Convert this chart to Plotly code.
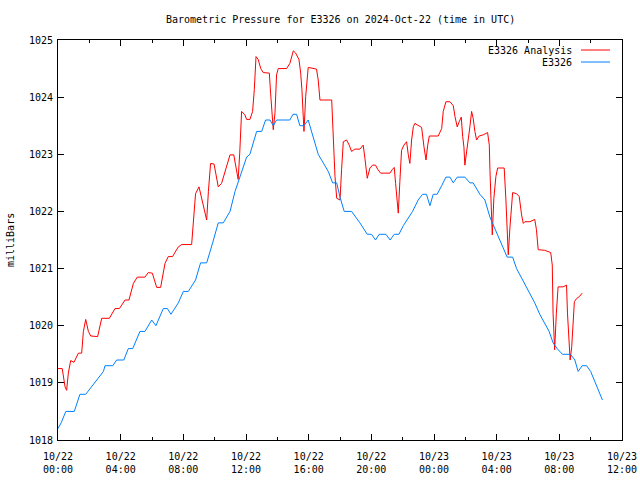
import pandas as pd
import plotly.graph_objects as go

START = "2024-10-22 00:00"

# E3326 Analysis (hours since 2024-10-22 00:00 UTC, mbar)
analysis_hours = [0.0, 0.27, 0.45, 0.55, 0.66, 0.81, 1.02, 1.3, 1.51, 1.62, 1.77, 1.94, 2.09, 2.53, 2.79, 3.28,
                  3.64, 3.92, 4.28, 4.53, 4.81, 5.06, 5.55, 5.76, 6.02, 6.3, 6.55, 6.83, 7.04, 7.31, 7.68, 7.89,
                  8.53, 8.64, 8.78, 9.0, 9.17, 9.32, 9.49, 9.6, 9.74, 9.96, 10.23, 10.44, 10.76, 10.98, 11.22,
                  11.4, 11.5, 11.6, 11.72, 11.93, 12.04, 12.25, 12.42, 12.53, 12.64, 12.78, 12.94, 13.1, 13.49,
                  13.57, 13.68, 13.74, 13.85, 13.95, 14.06, 14.59, 14.8, 15.02, 15.17, 15.38, 15.49, 15.57, 15.7,
                  15.81, 15.97, 16.5, 16.61, 16.72, 17.47, 17.57, 17.68, 17.79, 18.0, 18.1, 18.21, 18.42, 18.59,
                  18.74, 18.95, 19.27, 19.48, 19.59, 19.74, 19.91, 20.08, 20.27, 20.4, 20.59, 21.19, 21.33, 21.46,
                  21.55, 21.65, 21.72, 21.82, 21.93, 22.08, 22.25, 22.36, 22.46, 22.57, 22.68, 22.78, 22.99, 23.21,
                  23.36, 23.49, 23.6, 23.7, 24.27, 24.49, 24.59, 24.76, 25.02, 25.23, 25.34, 25.48, 25.61, 25.74,
                  25.83, 25.91, 25.97, 26.08, 26.19, 26.29, 26.4, 26.5, 26.61, 26.72, 26.88, 27.14, 27.42, 27.53,
                  27.57, 27.64, 27.72, 27.82, 27.95, 28.06, 28.48, 28.59, 28.67, 28.74, 28.85, 28.95, 29.02, 29.27,
                  29.44, 29.59, 29.7, 29.8, 30.12, 30.43, 30.54, 30.65, 31.06, 31.45, 31.55, 31.6, 31.66, 31.7,
                  31.81, 31.92, 32.24, 32.46, 32.52, 32.62, 32.69, 32.79, 32.86, 32.96, 33.12, 33.28, 33.46]
analysis_mbar = [1019.25, 1019.25, 1018.93, 1018.87, 1019.17, 1019.39, 1019.36, 1019.52, 1019.52, 1019.9, 1020.11,
                 1019.9, 1019.82, 1019.81, 1020.13, 1020.13, 1020.3, 1020.3, 1020.45, 1020.45, 1020.74, 1020.85,
                 1020.85, 1020.93, 1020.92, 1020.67, 1020.67, 1021.09, 1021.21, 1021.21, 1021.38, 1021.42, 1021.42,
                 1021.79, 1022.31, 1022.43, 1022.23, 1022.0, 1021.85, 1022.35, 1022.84, 1022.83, 1022.43, 1022.49,
                 1022.78, 1022.99, 1022.99, 1022.73, 1022.56, 1023.02, 1023.75, 1023.69, 1023.61, 1023.61, 1023.75,
                 1024.13, 1024.71, 1024.66, 1024.5, 1024.43, 1024.42, 1024.07, 1023.63, 1023.43, 1023.72, 1024.39,
                 1024.5, 1024.5, 1024.59, 1024.81, 1024.77, 1024.66, 1024.42, 1024.13, 1023.4, 1024.01, 1024.52,
                 1024.49, 1024.3, 1023.95, 1023.95, 1023.31, 1022.61, 1022.23, 1022.2, 1022.73, 1023.22, 1023.25,
                 1023.16, 1023.05, 1023.09, 1023.09, 1023.16, 1022.93, 1022.58, 1022.76, 1022.81, 1022.81, 1022.74,
                 1022.67, 1022.67, 1022.73, 1022.77, 1022.49, 1022.08, 1021.97, 1022.52, 1023.07, 1023.16, 1023.22,
                 1022.99, 1022.84, 1023.25, 1023.48, 1023.54, 1023.51, 1023.47, 1023.13, 1022.9, 1023.16, 1023.32,
                 1023.32, 1023.45, 1023.75, 1023.92, 1023.92, 1023.85, 1023.66, 1023.48, 1023.57, 1023.65, 1023.31,
                 1023.13, 1022.81, 1023.02, 1023.25, 1023.48, 1023.75, 1023.63, 1023.4, 1023.25, 1023.32, 1023.34,
                 1023.38, 1023.16, 1022.73, 1022.26, 1021.59, 1022.23, 1022.61, 1022.76, 1022.76, 1022.2, 1021.79,
                 1021.24, 1021.73, 1022.2, 1022.33, 1022.31, 1022.26, 1021.94, 1021.79, 1021.82, 1021.82, 1021.86,
                 1021.68, 1021.33, 1021.32, 1021.28, 1021.06, 1020.22, 1019.81, 1019.58, 1020.22, 1020.68, 1020.68,
                 1020.71, 1020.22, 1019.81, 1019.4, 1019.63, 1020.04, 1020.42, 1020.48, 1020.51, 1020.57]

# E3326 observations
station_hours = [0.0, 0.2, 0.5, 1.04, 1.4, 1.77, 2.9, 3.0, 3.5, 3.74, 4.2, 4.49, 4.77, 5.23, 5.55, 5.98, 6.25,
                 6.72, 6.98, 7.21, 7.68, 8.0, 8.32, 8.78, 9.1, 9.49, 9.87, 10.23, 10.55, 10.98, 11.3, 11.62, 12.04,
                 12.25, 12.68, 13.0, 13.25, 13.53, 13.74, 13.95, 14.8, 15.0, 15.23, 15.44, 15.7, 15.97, 16.29,
                 16.61, 16.93, 17.25, 17.53, 17.79, 18.0, 18.27, 18.74, 19.27, 19.74, 20.01, 20.27, 20.5, 20.93,
                 21.2, 21.46, 21.76, 22.04, 22.63, 22.99, 23.27, 23.52, 23.74, 23.95, 24.2, 24.49, 24.76, 25.02,
                 25.23, 25.48, 25.97, 26.29, 26.5, 26.93, 27.25, 27.57, 27.89, 28.21, 28.53, 28.67, 29.02, 29.27,
                 29.66, 30.07, 30.43, 30.75, 31.06, 31.35, 31.6, 31.86, 32.2, 32.71, 32.99, 33.2, 33.46, 33.74,
                 34.0, 34.21, 34.49, 34.75]
station_mbar = [1018.2, 1018.3, 1018.5, 1018.5, 1018.8, 1018.8, 1019.2, 1019.3, 1019.3, 1019.4, 1019.4, 1019.6,
                1019.6, 1019.9, 1019.9, 1020.1, 1020.0, 1020.3, 1020.3, 1020.2, 1020.4, 1020.6, 1020.6, 1020.8,
                1021.1, 1021.1, 1021.45, 1021.8, 1021.8, 1022.0, 1022.35, 1022.6, 1022.95, 1023.0, 1023.4, 1023.4,
                1023.6, 1023.6, 1023.5, 1023.6, 1023.6, 1023.7, 1023.7, 1023.5, 1023.5, 1023.6, 1023.3, 1023.0,
                1022.85, 1022.7, 1022.5, 1022.5, 1022.25, 1022.0, 1022.0, 1021.8, 1021.6, 1021.6, 1021.5, 1021.6,
                1021.6, 1021.5, 1021.6, 1021.6, 1021.75, 1022.0, 1022.2, 1022.3, 1022.3, 1022.1, 1022.3, 1022.3,
                1022.45, 1022.6, 1022.6, 1022.5, 1022.6, 1022.6, 1022.5, 1022.5, 1022.3, 1022.2, 1021.9, 1021.7,
                1021.5, 1021.3, 1021.2, 1021.2, 1021.0, 1020.8, 1020.6, 1020.4, 1020.2, 1020.05, 1019.9, 1019.7,
                1019.6, 1019.5, 1019.5, 1019.4, 1019.2, 1019.3, 1019.3, 1019.2, 1019.05, 1018.85, 1018.7]

tick_times = ["2024-10-22 00:00", "2024-10-22 04:00", "2024-10-22 08:00", "2024-10-22 12:00",
              "2024-10-22 16:00", "2024-10-22 20:00", "2024-10-23 00:00", "2024-10-23 04:00",
              "2024-10-23 08:00", "2024-10-23 12:00"]
tick_labels = ["10/22<br>00:00", "10/22<br>04:00", "10/22<br>08:00", "10/22<br>12:00", "10/22<br>16:00",
               "10/22<br>20:00", "10/23<br>00:00", "10/23<br>04:00", "10/23<br>08:00", "10/23<br>12:00"]
y_ticks = [1018, 1019, 1020, 1021, 1022, 1023, 1024, 1025]

series_names = ["E3326 Analysis", "E3326"]
series_colors = ["#ff0000", "#0080ff"]

base = pd.Timestamp(START)
t_an = base + pd.to_timedelta(analysis_hours, unit="h")
t_st = base + pd.to_timedelta(station_hours, unit="h")

FONT = "DejaVu Sans Mono"
PL, PT, PW, PH = 58, 40, 564, 400  # plot area in px

fig = go.Figure()
fig.add_trace(go.Scatter(x=t_an, y=analysis_mbar, mode="lines", name=series_names[0],
                         line=dict(color=series_colors[0], width=1)))
fig.add_trace(go.Scatter(x=t_st, y=station_mbar, mode="lines", name=series_names[1],
                         line=dict(color=series_colors[1], width=1)))

fig.update_layout(
    width=640, height=480,
    margin=dict(l=PL, r=640 - PL - PW, t=PT, b=480 - PT - PH, autoexpand=False),
    paper_bgcolor="white", plot_bgcolor="white",
    showlegend=False,
    font=dict(family=FONT, size=10, color="black"),
)
fig.update_xaxes(
    type="date", range=["2024-10-22 00:00", "2024-10-23 12:00"],
    tickvals=tick_times, ticktext=tick_labels,
    ticks="inside", ticklen=6, tickcolor="black", tickwidth=1,
    minor=dict(dtick=2 * 3600 * 1000, ticks="inside", ticklen=3, tickcolor="black", showgrid=False),
    showline=True, linecolor="black", linewidth=1, mirror="allticks",
    showgrid=False, zeroline=False, tickfont=dict(family=FONT, size=10),
    automargin=False, ticklabelstandoff=7,
)
fig.update_yaxes(
    range=[1018, 1025], tickvals=y_ticks, ticktext=[str(v) for v in y_ticks],
    ticks="inside", ticklen=6, tickcolor="black", tickwidth=1,
    showline=True, linecolor="black", linewidth=1, mirror="allticks",
    showgrid=False, zeroline=False, tickfont=dict(family=FONT, size=10),
    automargin=False, ticklabelstandoff=2,
)

# title
fig.add_annotation(text="Barometric Pressure for E3326 on 2024-Oct-22 (time in UTC)",
                   xref="paper", yref="paper", x=(340 - PL) / PW, y=1 + (PT - 20) / PH,
                   xanchor="center", yanchor="middle", showarrow=False, font=dict(family=FONT, size=10))

# y-axis title
fig.add_annotation(text="milliBars", xref="paper", yref="paper", x=(10 - PL) / PW, y=0.5,
                   xanchor="center", yanchor="middle", textangle=-90, showarrow=False,
                   font=dict(family=FONT, size=10))

# gnuplot-style key: label right-aligned, sample line to its right
for i, (nm, col) in enumerate(zip(series_names, series_colors)):
    ypx = 50 + 12 * i
    yp = 1 - (ypx - PT) / PH
    fig.add_annotation(text=nm, xref="paper", yref="paper", x=(574 - PL) / PW, y=yp,
                       xanchor="right", yanchor="middle", showarrow=False, font=dict(family=FONT, size=10))
    fig.add_shape(type="line", xref="paper", yref="paper", x0=(581 - PL) / PW, x1=(610 - PL) / PW,
                  y0=yp, y1=yp, line=dict(color=col, width=1))

fig.write_html("out.html", config={"displayModeBar": False},
               post_script="document.body.style.margin='0';document.body.style.padding='0';")
